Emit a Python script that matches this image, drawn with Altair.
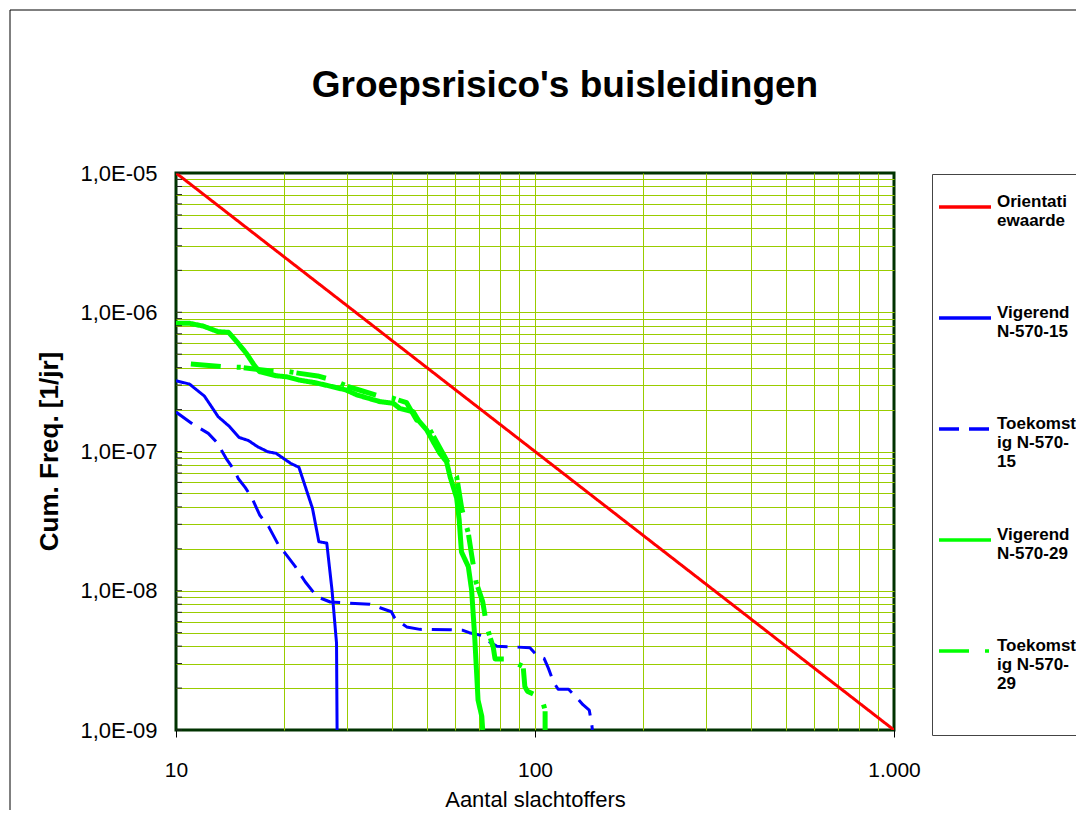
import altair as alt
import pandas as pd

# ---------------- data ----------------
series_names = ["Orientatiewaarde", "Vigerend N-570-15", "Toekomstig N-570-15",
                "Vigerend N-570-29", "Toekomstig N-570-29"]
series_colors = ["#FF0000", "#0000FF", "#0000FF", "#00FF00", "#00FF00"]
series_dash = [[1, 0], [1, 0], [20, 10], [1, 0], [30, 16, 4, 3]]

legend_lines = {
    "Orientatiewaarde": ["Orientati", "ewaarde"],
    "Vigerend N-570-15": ["Vigerend", "N-570-15"],
    "Toekomstig N-570-15": ["Toekomst", "ig N-570-", "15"],
    "Vigerend N-570-29": ["Vigerend", "N-570-29"],
    "Toekomstig N-570-29": ["Toekomst", "ig N-570-", "29", " ", " "],
}

ori_n = [10, 1000]
ori_f = [1e-5, 1e-9]

vig15_n = [10, 10.9, 12, 13.1, 14.1, 15, 15.9, 16.9, 18, 19, 20.9, 22, 24, 25,
           26.3, 27.2, 28, 28.1]
vig15_f = [3.22e-7, 3.05e-7, 2.5e-7, 1.78e-7, 1.51e-7, 1.26e-7, 1.2e-7, 1.08e-7,
           9.97e-8, 9.7e-8, 8.2e-8, 7.7e-8, 3.9e-8, 2.25e-8, 2.2e-8, 1.01e-8,
           4.2e-9, 1e-9]

tk15_n = [10, 11.1, 12.3, 13, 13.8, 14.6, 14.9, 15.6, 16.3, 17.1,
          18.1, 19.3, 20.3, 21.5, 22.9, 24.7, 26.9, 34.7, 37, 39.8,
          40.7, 43.9, 47.8, 58, 63, 65.6, 71, 73.4, 78.2, 96.8,
          101.5, 106, 109, 112.5, 116, 124, 132, 136, 141.6, 143.8, 144.5]
tk15_f = [1.92e-7, 1.58e-7, 1.35e-7, 1.16e-7, 8.9e-8, 7.2e-8, 6.4e-8, 5.5e-8, 4.6e-8, 3.5e-8,
          2.9e-8, 2.13e-8, 1.81e-8, 1.49e-8, 1.16e-8, 9.06e-9, 8.3e-9, 8.0e-9, 7.55e-9, 7.07e-9,
          6.34e-9, 5.5e-9, 5.28e-9, 5.25e-9, 5.2e-9, 5.0e-9, 4.77e-9, 4.4e-9, 4.0e-9, 3.9e-9,
          3.4e-9, 3.27e-9, 2.77e-9, 2.22e-9, 1.96e-9, 1.96e-9, 1.66e-9, 1.52e-9, 1.39e-9, 1.12e-9,
          1e-9]

vig29_n = [10, 10.9, 11.9, 13.1, 14, 14.9, 15.7, 16.5, 17.1, 19,
           20.3, 22, 24.4, 27.3, 29.8, 31.9, 37, 40.3, 42, 45.8,
           47.3, 49.9, 52.1, 54.3, 56.7, 58, 60.5, 61.5, 62.4, 65.2,
           66.6, 68, 69.4, 71.1, 71.5]
vig29_f = [8.33e-7, 8.33e-7, 7.96e-7, 7.25e-7, 7.18e-7, 5.98e-7, 5.07e-7, 4.18e-7, 3.74e-7, 3.5e-7,
           3.44e-7, 3.26e-7, 3.12e-7, 2.92e-7, 2.76e-7, 2.55e-7, 2.28e-7, 2.22e-7, 2.04e-7, 1.93e-7,
           1.68e-7, 1.43e-7, 1.17e-7, 9.7e-8, 8.45e-8, 6.6e-8, 4.63e-8, 3.22e-8, 1.9e-8, 1.49e-8,
           1.01e-8, 4.43e-9, 1.64e-9, 1.25e-9, 1e-9]

tk29_n = [11, 13.5, 15.2, 18.2, 20.7, 22.1, 24.8, 27.7, 30.2, 32.9,
          37, 40.3, 43.9, 46.8, 50.4, 53.2, 56.7, 60.5, 62.5, 65.2,
          66.6, 68.5, 71.5, 73.4, 76.5, 77.4, 84.3, 92.7, 93.7, 95.2,
          104.4, 106.7, 106.7]
tk29_f = [4.25e-7, 4.06e-7, 4.02e-7, 3.8e-7, 3.74e-7, 3.64e-7, 3.49e-7, 3.22e-7, 2.92e-7, 2.73e-7,
          2.49e-7, 2.41e-7, 2.24e-7, 1.68e-7, 1.51e-7, 1.17e-7, 8.7e-8, 6.6e-8, 3.9e-8, 2.59e-8,
          1.81e-8, 1.16e-8, 8.35e-9, 5.52e-9, 3.93e-9, 3.24e-9, 3.24e-9, 2.85e-9, 2.05e-9, 1.9e-9,
          1.69e-9, 1.39e-9, 1e-9]

x_label_values = [10, 100, 1000]
y_label_values = [1e-9, 1e-8, 1e-7, 1e-6, 1e-5]
x_grid_values = [k * 10 for k in range(2, 10)] + [100] + [k * 100 for k in range(2, 10)]
y_minor_values = [float(f"{k}e{e}") for e in range(-9, -5) for k in range(1, 10)] + [1e-5]
y_grid_values = [v for v in y_minor_values if 1e-9 < v < 1e-5]

# ---------------- tables ----------------
rows = []
for name, ns, fs in zip(series_names,
                        [ori_n, vig15_n, tk15_n, vig29_n, tk29_n],
                        [ori_f, vig15_f, tk15_f, vig29_f, tk29_f]):
    for i, (n, f) in enumerate(zip(ns, fs)):
        rows.append({"series": name, "n": n, "f": f, "i": i})
df = pd.DataFrame(rows)
gx_df = pd.DataFrame({"gx": x_grid_values})
gy_df = pd.DataFrame({"gy": y_grid_values})
tick_df = pd.DataFrame({"ty": y_minor_values})
frame_df = pd.DataFrame({"a": [0]})

FONT = "Liberation Sans"
THICK = "indexof(['Vigerend N-570-29','Toekomstig N-570-29'], {v}) >= 0 ? 5 : 3"

expr_parts = []
for k, lines in legend_lines.items():
    arr = "[" + ",".join("'" + s + "'" for s in lines) + "]"
    expr_parts.append(f"datum.label == '{k}' ? {arr}")
label_expr = " : ".join(expr_parts) + " : datum.label"

legend = alt.Legend(
    title=None, orient="none", legendX=756, legendY=1,
    symbolType="stroke", symbolSize=2704, symbolStrokeWidth=3.5,
    labelExpr=label_expr, labelFont=FONT, labelFontSize=17, labelFontWeight="bold",
    labelColor="black", labelBaseline="alphabetic", labelOffset=4, labelLimit=200,
    strokeColor="#444444", fillColor="white", padding=5, rowPadding=4,
    gridAlign="all", cornerRadius=0,
)

xscale = alt.Scale(type="log", domain=[10, 1000], nice=False)
yscale = alt.Scale(type="log", domain=[1e-9, 1e-5], nice=False)

frame = alt.Chart(frame_df).mark_rect(
    fillOpacity=0, stroke="#000000", strokeWidth=1, clip=False
).encode(
    x=alt.value(-166), x2=alt.value(1000), y=alt.value(-163), y2=alt.value(800)
)

xgrid = alt.Chart(gx_df).mark_point(opacity=0).encode(
    x=alt.X("gx:Q", scale=xscale,
            axis=alt.Axis(orient="bottom", values=x_grid_values, grid=True, gridColor="#99CC00",
                          gridWidth=1, labels=False, ticks=False, domain=False, title=None)),
)
ygrid = alt.Chart(gy_df).mark_point(opacity=0).encode(
    y=alt.Y("gy:Q", scale=yscale,
            axis=alt.Axis(orient="left", values=y_grid_values, grid=True, gridColor="#99CC00",
                          gridWidth=1, labels=False, ticks=False, domain=False, title=None)),
)

lines = alt.Chart(df).transform_calculate(
    w=THICK.format(v="datum.series")
).mark_line(clip=True, strokeCap="butt", strokeJoin="round").encode(
    x=alt.X("n:Q", scale=xscale,
            axis=alt.Axis(orient="bottom", values=x_label_values, grid=False, domain=False,
                          ticks=True, tickSize=7, tickColor="black", tickWidth=1,
                          labelExpr="datum.value >= 1000 ? '1.000' : toString(datum.value)",
                          labelFlush=False,
                          labelFont=FONT, labelFontSize=21, labelColor="black",
                          labelPadding=22, title="Aantal slachtoffers",
                          titleFont=FONT, titleFontSize=22, titleFontWeight="normal",
                          titleColor="black", titlePadding=9)),
    y=alt.Y("f:Q", scale=yscale,
            axis=alt.Axis(orient="left", values=y_label_values, grid=False, domain=False, ticks=False,
                          labelExpr="'1,0E-0' + toString(round(-log(datum.value)/LN10))",
                          labelFlush=False,
                          labelFont=FONT, labelFontSize=22, labelColor="black",
                          labelPadding=19, title="Cum. Freq. [1/jr]",
                          titleFont=FONT, titleFontSize=26, titleFontWeight="bold",
                          titleColor="black", titleX=-119, titleY=278,
                          titleBaseline="alphabetic")),
    color=alt.Color("series:N", scale=alt.Scale(domain=series_names, range=series_colors),
                    legend=legend),
    strokeDash=alt.StrokeDash("series:N", scale=alt.Scale(domain=series_names, range=series_dash),
                              legend=legend),
    strokeWidth=alt.StrokeWidth("w:Q", scale=None, legend=None),
    order=alt.Order("i:Q"),
)

ticks = alt.Chart(tick_df).mark_rule(color="#222222", strokeWidth=1).encode(
    y=alt.Y("ty:Q", scale=yscale, axis=None),
    x=alt.value(0), x2=alt.value(6),
)

chart = alt.layer(frame, xgrid, ygrid, lines, ticks).resolve_axis(
    x="independent", y="independent"
).properties(
    width=718, height=557,
    autosize=alt.AutoSizeParams(type="none"),
    padding={"left": 168, "top": 165, "right": 182, "bottom": 80},
    title=alt.TitleParams("Groepsrisico's buisleidingen", font=FONT, fontSize=37,
                          fontWeight="bold", color="black", anchor="middle",
                          dx=30, dy=95, offset=0),
    background="white",
).configure_view(
    stroke="#003300", strokeWidth=3
)

chart.save("out.html", embed_options={"renderer": "svg", "actions": False})
